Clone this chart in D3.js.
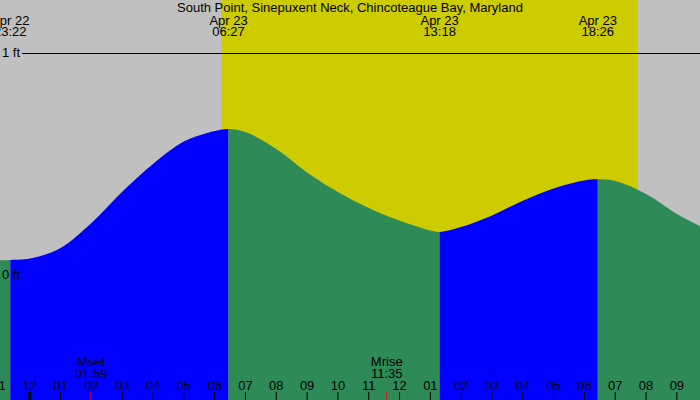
<!DOCTYPE html>
<html lang="en">
<head>
    <meta charset="UTF-8">
    <title>Tide chart D3</title>
    <script src="https://d3js.org/d3.v7.min.js"></script>
    <style>
        body { margin: 0; background: #fff; }
        svg { display: block; }
        text { font-family: "Liberation Sans", Arial, sans-serif; font-size: 13px; fill: #000; }
    </style>
</head>
<body>
    <svg id="chart"></svg>
    <script>
        const title = "South Point, Sinepuxent Neck, Chincoteague Bay, Maryland";

        // tide height readings (ft) off the picture
        const tideTimes = ["Apr 22 22:00", "Apr 22 23:22", "Apr 23 00:00", "Apr 23 01:00", "Apr 23 02:00",
                           "Apr 23 03:00", "Apr 23 04:00", "Apr 23 05:00", "Apr 23 06:00", "Apr 23 06:27",
                           "Apr 23 07:00", "Apr 23 08:00", "Apr 23 09:00", "Apr 23 10:00", "Apr 23 11:00",
                           "Apr 23 12:00", "Apr 23 13:00", "Apr 23 13:18", "Apr 23 14:00", "Apr 23 15:00",
                           "Apr 23 16:00", "Apr 23 17:00", "Apr 23 18:00", "Apr 23 18:26", "Apr 23 19:00",
                           "Apr 23 20:00", "Apr 23 21:00", "Apr 23 22:00"];
        const tideFeet = [0.065, 0.068, 0.074, 0.122, 0.234,
                          0.375, 0.50, 0.601, 0.649, 0.658,
                          0.644, 0.568, 0.462, 0.374, 0.302,
                          0.245, 0.20, 0.194, 0.216, 0.268,
                          0.335, 0.39, 0.426, 0.431, 0.423,
                          0.365, 0.275, 0.203];

        // high / low tides
        const extremeDays = ["Apr 22", "Apr 23", "Apr 23", "Apr 23"];
        const extremeTimes = ["23:22", "06:27", "13:18", "18:26"];

        const sunrise = "Apr 23 06:13";
        const sunset = "Apr 23 19:44";

        const moonLabels = ["Mset", "Mrise"];
        const moonTimes = ["01:59", "11:35"];

        const yTicks = [0, 1];

        const width = 700, height = 400;
        const parse = d3.timeParse("%b %d %H:%M");

        const svg = d3.select("#chart")
                      .attr("width", width)
                      .attr("height", height);

        const x = d3.scaleTime()
                    .domain([parse("Apr 22 23:02"), parse("Apr 23 21:45")])
                    .range([0, width]);
        const y = d3.scaleLinear().domain([0, 1]).range([275, 53]);

        const tide = tideTimes.map((t, i) => ({t: parse(t), v: tideFeet[i]}));

        // background: night grey, daylight yellow
        svg.append("rect").attr("width", width).attr("height", height).attr("fill", "#c0c0c0");
        svg.append("rect")
           .attr("x", x(parse(sunrise)))
           .attr("width", x(parse(sunset)) - x(parse(sunrise)))
           .attr("height", height)
           .attr("fill", "#cccc00");

        // 1 ft line
        svg.append("line")
           .attr("x1", 22).attr("x2", width)
           .attr("y1", y(1) + 0.5).attr("y2", y(1) + 0.5)
           .attr("stroke", "#000");

        // tide area, blue while rising, green while falling
        const area = d3.area()
                       .x(d => x(d.t))
                       .y0(height)
                       .y1(d => y(d.v))
                       .curve(d3.curveCatmullRom.alpha(0.5));

        const extremes = extremeTimes.map((t, i) => parse(extremeDays[i] + " " + t));
        const bounds = [x.domain()[0], ...extremes, x.domain()[1]];
        const valAt = t => {
            const i = d3.bisector(d => d.t).left(tide, t);
            return tide[Math.min(i, tide.length - 1)].v;
        };

        bounds.slice(0, -1).forEach((b0, i) => {
            const b1 = bounds[i + 1];
            const rising = valAt(b1) > valAt(b0);
            svg.append("clipPath").attr("id", "seg" + i)
               .append("rect")
               .attr("x", x(b0)).attr("width", x(b1) - x(b0))
               .attr("y", 0).attr("height", height);
            svg.append("path")
               .datum(tide)
               .attr("clip-path", `url(#seg${i})`)
               .attr("fill", rising ? "#0000ff" : "#2e8b57")
               .attr("d", area);
        });

        // y labels
        svg.selectAll(".ylab")
           .data(yTicks)
           .join("text")
           .attr("x", 2)
           .attr("y", d => y(d) + 4)
           .text(d => d + " ft");

        // title and tide times
        svg.append("text")
           .attr("x", width / 2).attr("y", 12)
           .attr("text-anchor", "middle")
           .text(title);

        const ext = svg.selectAll(".ext")
                       .data(extremes)
                       .join("g")
                       .attr("transform", d => `translate(${x(d)},0)`);
        ext.append("text").attr("y", 24.5).attr("text-anchor", "middle")
           .text((d, i) => extremeDays[i]);
        ext.append("text").attr("y", 36).attr("text-anchor", "middle")
           .text((d, i) => extremeTimes[i]);

        // hour axis
        const hours = d3.timeHour.range(parse("Apr 22 22:00"), parse("Apr 23 23:00"));
        const fmt = d3.timeFormat("%I");
        svg.selectAll(".hlab")
           .data(hours)
           .join("text")
           .attr("x", d => x(d)).attr("y", 390)
           .attr("text-anchor", "middle")
           .text(fmt);
        svg.selectAll(".htick")
           .data(hours)
           .join("line")
           .attr("x1", d => x(d)).attr("x2", d => x(d))
           .attr("y1", 392).attr("y2", height)
           .attr("stroke", "#000")
           .attr("stroke-width", d => d.getHours() === 0 ? 3 : 1);

        // moon rise / set
        const moon = moonTimes.map(t => parse("Apr 23 " + t));
        svg.selectAll(".mtick")
           .data(moon)
           .join("line")
           .attr("x1", d => x(d)).attr("x2", d => x(d))
           .attr("y1", 392).attr("y2", height)
           .attr("stroke", "#ff0000");
        const mg = svg.selectAll(".moon")
                      .data(moon)
                      .join("g")
                      .attr("transform", d => `translate(${x(d)},0)`);
        mg.append("text").attr("y", 366).attr("text-anchor", "middle")
          .text((d, i) => moonLabels[i]);
        mg.append("text").attr("y", 378).attr("text-anchor", "middle")
          .text((d, i) => moonTimes[i]);
    </script>
</body>
</html>
